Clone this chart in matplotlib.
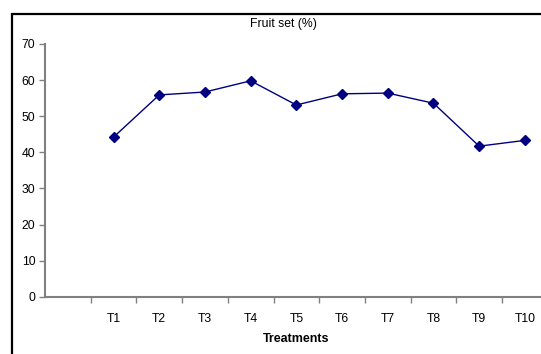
import matplotlib
matplotlib.use("Agg")
import matplotlib.pyplot as plt
from matplotlib.patches import Rectangle

plt.rcParams['font.family'] = ['Liberation Sans', 'DejaVu Sans']

treatments = ["T1", "T2", "T3", "T4", "T5", "T6", "T7", "T8", "T9", "T10"]
fruit_set = [44.2, 55.9, 56.7, 59.8, 53.1, 56.2, 56.4, 53.6, 41.7, 43.3]
y_ticks = [0, 10, 20, 30, 40, 50, 60, 70]

W, H = 541, 354
DPI = 100
fig = plt.figure(figsize=(W / DPI, H / DPI), dpi=DPI)

# chart area frame (extends past the right and bottom edges)
fig.patches.append(Rectangle((12 / W, -0.1), 1.2, (H - 14) / H + 0.1,
                             transform=fig.transFigure, fill=False,
                             edgecolor='black', linewidth=1.6))

# plot area in pixel units
left, right = 45, 547.7
top, bottom = 44, 296.7
ax = fig.add_axes([left / W, (H - bottom) / H, (right - left) / W, (bottom - top) / H])

# first category slot is left empty
xs = [i + 1.5 for i in range(len(treatments))]
ax.plot(xs, fruit_set, color='#000080', linewidth=1.0, marker='D',
        markersize=5.5, markerfacecolor='#000080', markeredgecolor='#000080')

ax.set_xlim(0, 11)
ax.set_ylim(0, 70)
ax.set_yticks(y_ticks)
ax.set_xticks(range(1, 12))
ax.set_xticklabels([])
ax.set_xticks(xs, minor=True)
ax.set_xticklabels(treatments, minor=True)
ax.tick_params(axis='x', which='minor', length=0, pad=12, labelsize=8.8)
ax.tick_params(axis='x', which='major', length=4, width=1, color='#808080', direction='out')
ax.tick_params(axis='y', length=4, width=1, color='#808080', labelsize=8.8, pad=3)

for s in ['top', 'right']:
    ax.spines[s].set_visible(False)
for s in ['left', 'bottom']:
    ax.spines[s].set_color('#808080')
    ax.spines[s].set_linewidth(1.5)

ax.set_facecolor('none')

fig.text(283 / W, 1 - 23.5 / H, "Fruit set (%)", ha='center', va='center', fontsize=8.8)
fig.text(296 / W, 1 - 339.5 / H, "Treatments", ha='center', va='center',
         fontsize=9, fontweight='bold')

fig.savefig("out.png", dpi=DPI)
